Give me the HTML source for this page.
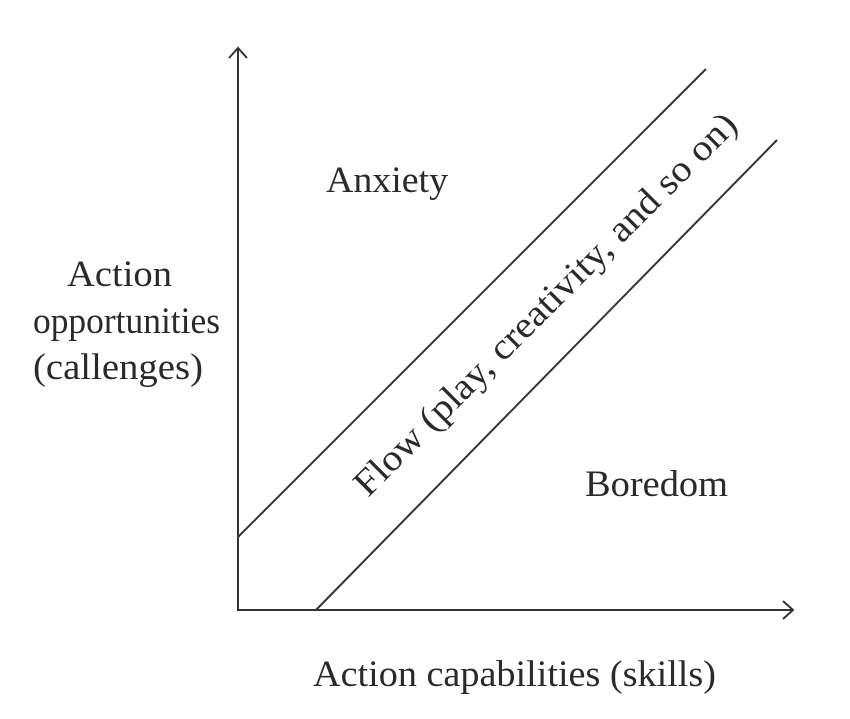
<!DOCTYPE html>
<html><head><meta charset="utf-8"><style>html,body{margin:0;padding:0;background:#fff}svg{display:block}</style></head>
<body>
<svg width="850" height="719" viewBox="0 0 850 719" xmlns="http://www.w3.org/2000/svg" font-family="'Liberation Serif', serif" fill="#2a2a2a">
<g stroke="#333" stroke-width="2" fill="none">
<line x1="238" y1="48" x2="238" y2="611"/>
<line x1="237" y1="610" x2="793" y2="610"/>
<polyline points="229,58 238,48 247,58"/>
<polyline points="783,601 793,610 783,619"/>
<line x1="238" y1="537" x2="706" y2="69"/>
<line x1="316" y1="610" x2="777" y2="140"/>
</g>
<g font-size="37">
<text x="326" y="192" textLength="122" lengthAdjust="spacingAndGlyphs">Anxiety</text>
<text x="585" y="496" textLength="143" lengthAdjust="spacingAndGlyphs">Boredom</text>
<text x="67" y="286" textLength="105" lengthAdjust="spacingAndGlyphs">Action</text>
<text x="33" y="333" textLength="187" lengthAdjust="spacingAndGlyphs">opportunities</text>
<text x="33" y="379" textLength="170" lengthAdjust="spacingAndGlyphs">(callenges)</text>
<text x="313" y="686" textLength="403" lengthAdjust="spacingAndGlyphs">Action capabilities (skills)</text>
<text x="0" y="0" textLength="525" lengthAdjust="spacingAndGlyphs" transform="translate(368,498) rotate(-45)">Flow (play, creativity, and so on)</text>
</g>
</svg>
</body></html>
